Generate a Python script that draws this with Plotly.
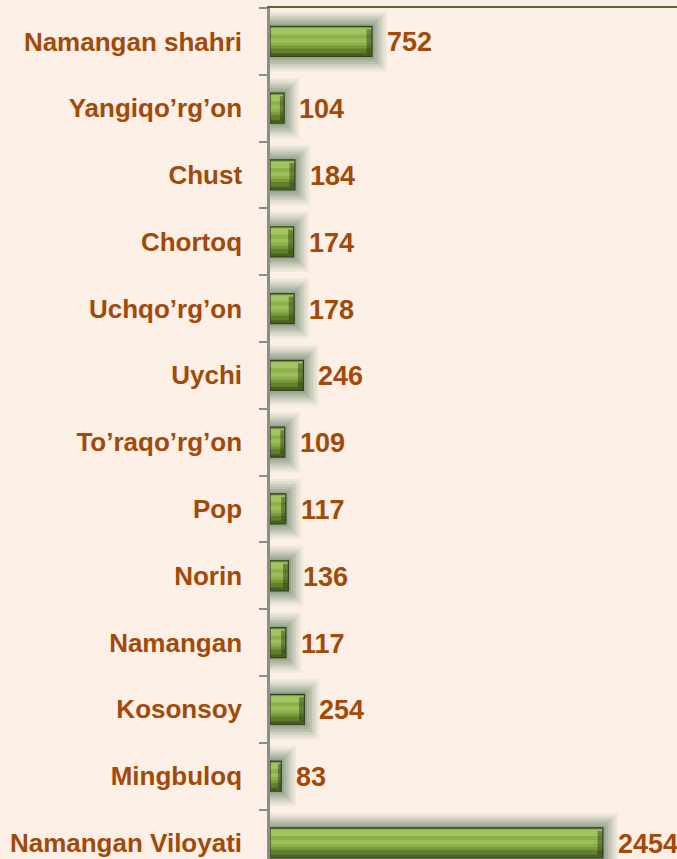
import plotly.graph_objects as go

categories = ["Namangan shahri", "Yangiqo’rg’on", "Chust", "Chortoq", "Uchqo’rg’on",
              "Uychi", "To’raqo’rg’on", "Pop", "Norin", "Namangan", "Kosonsoy",
              "Mingbuloq", "Namangan Viloyati"]
values = [752, 104, 184, 174, 178, 246, 109, 117, 136, 117, 254, 83, 2454]

FONT = "Liberation Sans Narrow, Arial Narrow, Liberation Sans, Arial"
TXT = "#A14A0A"
BG = "#FCF0E6"

fig = go.Figure()

# soft glow layers
for lw, alpha in [(30, 0.08), (25, 0.10), (20, 0.13), (15, 0.16), (10, 0.20), (5, 0.24)]:
    fig.add_trace(go.Bar(
        y=categories, x=values, orientation="h", width=0.45,
        marker=dict(color="rgba(0,0,0,0)",
                    line=dict(color=f"rgba(95,125,95,{alpha})", width=lw)),
        hoverinfo="skip", showlegend=False))

# bar body stripes, top to bottom (offset, width, colour)
stripes = [(-0.225, 0.45, "#4A6220"),
           (-0.225, 0.40, "#627F2E"),
           (-0.225, 0.33, "#7A9B3C"),
           (-0.210, 0.27, "#8DB04B"),
           (-0.195, 0.09, "#A2C463"),
           (-0.045, 0.06, "#9BBE58"),
           (-0.225, 0.015, "#789845")]
for off, w, col in stripes:
    fig.add_trace(go.Bar(
        y=categories, x=values, orientation="h", width=w, offset=off,
        marker=dict(color=col, line=dict(width=0)),
        hoverinfo="skip", showlegend=False))

# darker bevelled right end of each bar
cap = [min(40, v * 0.3) for v in values]
fig.add_trace(go.Bar(
    y=categories, x=cap, base=[v - c for v, c in zip(values, cap)],
    orientation="h", width=0.36, offset=-0.18,
    marker=dict(color="rgba(40,55,20,0.45)", line=dict(width=0)),
    hoverinfo="skip", showlegend=False))

# outline
fig.add_trace(go.Bar(
    y=categories, x=values, orientation="h", width=0.45,
    marker=dict(color="rgba(0,0,0,0)", line=dict(color="#34431A", width=1.2)),
    hoverinfo="skip", showlegend=False))

for c, v in zip(categories, values):
    fig.add_annotation(x=v, y=c, text=str(v), showarrow=False,
                       xanchor="left", yanchor="middle", xshift=13, yshift=-1,
                       font=dict(family=FONT, size=27, color=TXT, weight="bold"))

fig.update_layout(
    width=677, height=859,
    margin=dict(l=270, r=0, t=8, b=0),
    paper_bgcolor=BG, plot_bgcolor=BG,
    barmode="overlay",
    xaxis=dict(range=[0, 3000], side="top", showline=True, linecolor="#5B6B2E",
               linewidth=2, showgrid=False, zeroline=False, showticklabels=False,
               ticks=""),
    yaxis=dict(categoryorder="array", categoryarray=categories, automargin=False,
               range=[12.24, -0.5], showline=True, linecolor="#8C8C8C", linewidth=2.5,
               ticks="outside", ticklen=8, tickwidth=2, tickcolor="#8C8C8C",
               tickson="boundaries", showgrid=False, zeroline=False,
               ticklabelstandoff=20,
               tickfont=dict(family=FONT, size=26, color=TXT, weight="bold")),
)

fig.write_html("out.html", config={"displayModeBar": False},
               post_script="document.body.style.margin='0';"
                           "document.body.style.background='" + BG + "';")
